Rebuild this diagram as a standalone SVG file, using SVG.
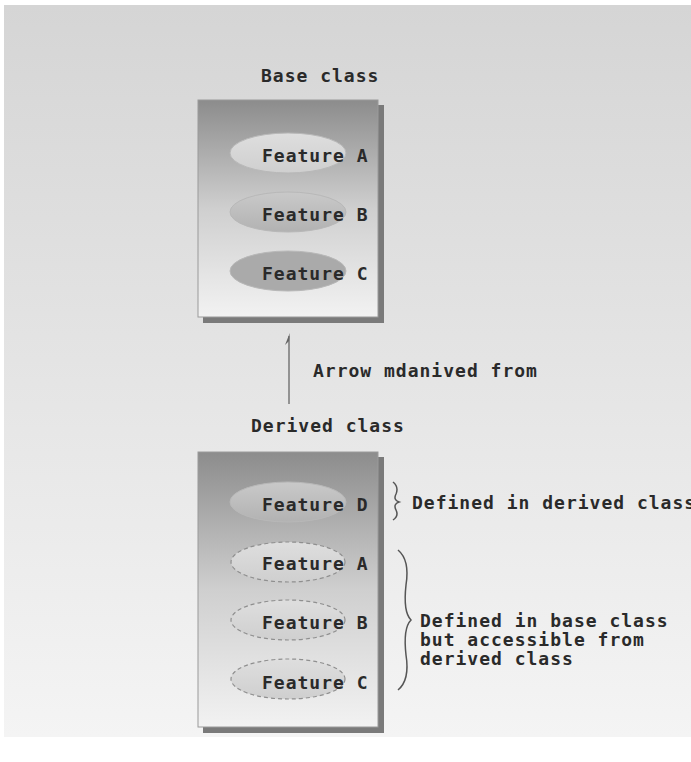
<svg xmlns="http://www.w3.org/2000/svg" width="691" height="762" viewBox="0 0 691 762">
<defs>
<linearGradient id="bg" x1="0" y1="0" x2="0" y2="1">
<stop offset="0" stop-color="#d5d5d5"/>
<stop offset="1" stop-color="#f4f4f4"/>
</linearGradient>
<linearGradient id="box" x1="0" y1="0" x2="0" y2="1">
<stop offset="0" stop-color="#8c8c8c"/>
<stop offset="0.5" stop-color="#cfcfcf"/>
<stop offset="1" stop-color="#f2f2f2"/>
</linearGradient>
<linearGradient id="ell" x1="0" y1="0" x2="0" y2="1">
<stop offset="0" stop-color="#c9c9c9"/>
<stop offset="1" stop-color="#b2b2b2"/>
</linearGradient>
<linearGradient id="ellL" x1="0" y1="0" x2="0" y2="1">
<stop offset="0" stop-color="#dedede"/>
<stop offset="1" stop-color="#cfcfcf"/>
</linearGradient>
</defs>
<style>
text{font-family:"DejaVu Sans Mono","Liberation Mono",monospace;font-size:18px;font-weight:bold;letter-spacing:1px;fill:#2a2a2a;}
.shadow{fill:#7a7a7a;}
.box{fill:url(#box);stroke:#9a9a9a;stroke-width:1;}
.feat{fill:url(#ell);stroke:#b8b8b8;stroke-width:1;}
.inh{fill:url(#ellL);stroke:#8f8f8f;stroke-width:1.2;stroke-dasharray:4 3;}
.brace{fill:none;stroke:#555;stroke-width:1.5;}
</style>
<rect x="0" y="0" width="691" height="762" fill="#ffffff"/>
<rect x="4" y="5" width="687" height="732" fill="url(#bg)"/>

<g id="base">
<rect class="shadow" x="203" y="105" width="181" height="218"/>
<rect class="box" x="198" y="100" width="180" height="217"/>
<text x="261" y="82">Base class</text>
</g>
<g id="baseA"><ellipse class="feat" cx="288" cy="153" rx="58" ry="20" style="fill:url(#ellL)"/><text x="262" y="162">Feature A</text></g>
<g id="baseB"><ellipse class="feat" cx="288" cy="212" rx="58" ry="20"/><text x="262" y="221">Feature B</text></g>
<g id="baseC"><ellipse class="feat" cx="288" cy="271" rx="58" ry="20" style="fill:#aaaaaa"/><text x="262" y="280">Feature C</text></g>

<g id="derived">
<rect class="shadow" x="203" y="457" width="181" height="276"/>
<rect class="box" x="198" y="452" width="180" height="275"/>
<text x="251" y="432">Derived class</text>
</g>
<g id="derivedD"><ellipse class="feat" cx="288" cy="502" rx="58" ry="20"/><text x="262" y="511">Feature D</text></g>
<g id="derivedA"><ellipse class="inh" cx="288" cy="562" rx="57" ry="20"/><text x="262" y="570">Feature A</text></g>
<g id="derivedB"><ellipse class="inh" cx="288" cy="620" rx="57" ry="20"/><text x="262" y="629">Feature B</text></g>
<g id="derivedC"><ellipse class="inh" cx="288" cy="679" rx="57" ry="20"/><text x="262" y="689">Feature C</text></g>

<g id="connectors">
<line x1="289" y1="404" x2="289" y2="336" stroke="#777" stroke-width="1.5"/>
<path d="M289.8,333 L285,345 L289,341 Z" fill="#666"/>
<path class="brace" d="M393,482 Q399,487 396,494 Q393,500 399,502 Q393,504 396,510 Q399,516 393,520"/>
<path class="brace" d="M398,550 Q410,560 406,585 Q403,612 411,620 Q403,628 406,655 Q410,680 398,690"/>
</g>

<g id="labels">
<text x="313" y="377">Arrow mdanived from</text>
<text x="412" y="509">Defined in derived class</text>
<text x="420" y="627">Defined in base class</text>
<text x="420" y="646">but accessible from</text>
<text x="420" y="665">derived class</text>
</g>
</svg>
